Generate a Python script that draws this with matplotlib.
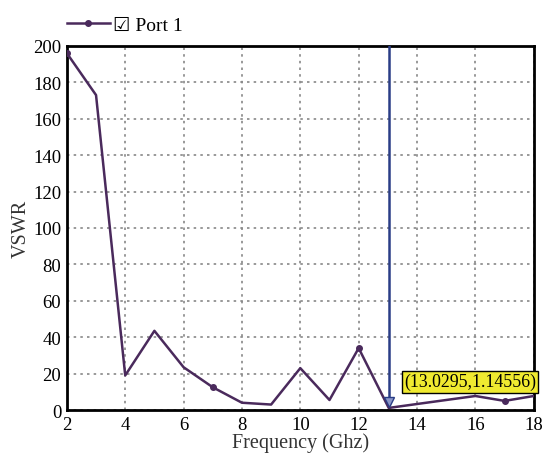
import numpy as np
import matplotlib
matplotlib.use('Agg')
import matplotlib.pyplot as plt
from matplotlib.lines import Line2D

plt.rcParams['font.family'] = ['Liberation Serif', 'DejaVu Serif']

freq = [2, 3, 4, 5, 6, 7, 8, 9, 10, 11, 12, 13.0295, 14, 15, 16, 17, 18]
vswr = [196, 173, 19, 43.5, 23.5, 12.5, 4, 3, 23, 5.5, 34, 1.14556, 3.3, 5.5, 7.7, 5, 7.7]
marked = [0, 5, 10, 15]

marker_x = 13.0295
marker_y = 1.14556

line_col = '#4a2a5c'
arrow_col = '#2a3d86'

fig = plt.figure(figsize=(5.48, 4.60), dpi=100)
ax = fig.add_axes([0.122, 0.1065, 0.852, 0.7915])

ax.plot(freq, vswr, color=line_col, lw=1.8, marker='o', markersize=4,
        markevery=marked, zorder=3)

# marker line at the minimum
ax.plot([marker_x, marker_x], [200, marker_y + 4], color=arrow_col, lw=1.8, zorder=4)
ax.plot([marker_x], [marker_y + 3], marker='v', color=arrow_col, markersize=7,
        markerfacecolor='#8b96c8', zorder=5)
ax.text(13.55, 15.5, f'({marker_x},{marker_y})', fontsize=12.8, va='center',
        ha='left', zorder=6, clip_on=False,
        bbox=dict(boxstyle='square,pad=0.12', facecolor='#f0ea30', edgecolor='black', lw=1))

ax.set_xlim(2, 18)
ax.set_ylim(0, 200)
ax.set_xticks(np.arange(2, 19, 2))
ax.set_yticks(np.arange(0, 201, 20))
ax.tick_params(length=0, labelsize=13.5, pad=4)
ax.grid(True, linestyle=(0, (1.5, 2.5)), color='#888888', lw=1.2)
for s in ax.spines.values():
    s.set_linewidth(2)
ax.set_xlabel('Frequency (Ghz)', fontsize=14.5, labelpad=0, color='#333333')
ax.set_ylabel('VSWR', fontsize=14.5, labelpad=2, color='#333333')

# legend row above the plot
h = Line2D([], [], color=line_col, lw=1.8, marker='o', markersize=4)
leg = fig.legend([h], ['\u2611 Port 1'], loc='upper left', bbox_to_anchor=(0.09, 1.0),
                 frameon=False, handlelength=2.2, handletextpad=0.2,
                 prop={'family': ['Liberation Serif', 'DejaVu Sans'], 'size': 14})

fig.savefig('out.png', dpi=100)
